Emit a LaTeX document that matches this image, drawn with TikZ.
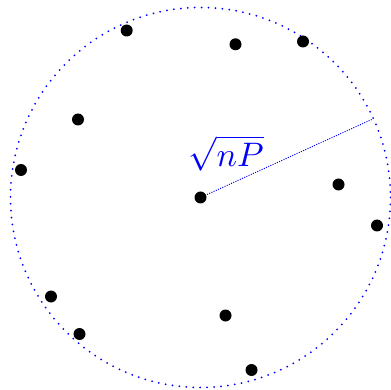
\documentclass[tikz,border=0pt]{standalone}
\begin{document}
\begin{tikzpicture}[x=1pt,y=-1pt,
  pt/.style={circle,fill=black,inner sep=0pt,minimum size=12pt},
  bound/.style={blue,line width=2pt,line cap=round,dash pattern=on 0pt off 6.95pt},
  rad/.style={blue,line width=1pt,dash pattern=on 1pt off 1.4pt}]
\useasboundingbox (0,0) rectangle (391,390);
\coordinate (c) at (200.5,197.5);
\draw[bound] (c) circle (190);
\coordinate (e) at (371.7,119.5);
\draw[rad] (c) -- (e);
\node[pt] (o) at (c) {};
\node[pt] (p1) at (126.7,30.5) {};
\node[pt] (p2) at (235.5,44.3) {};
\node[pt] (p3) at (303,41.5) {};
\node[pt] (p4) at (78,119.5) {};
\node[pt] (p5) at (21,170) {};
\node[pt] (p6) at (338.5,184.5) {};
\node[pt] (p7) at (377,225.5) {};
\node[pt] (p8) at (51,296.5) {};
\node[pt] (p9) at (79.5,334) {};
\node[pt] (p10) at (225.5,315.5) {};
\node[pt] (p11) at (251.5,370) {};
\node[blue,scale=3.4,inner sep=0pt] (lab) at (226,153) {$\sqrt{nP}$};
\end{tikzpicture}
\end{document}
